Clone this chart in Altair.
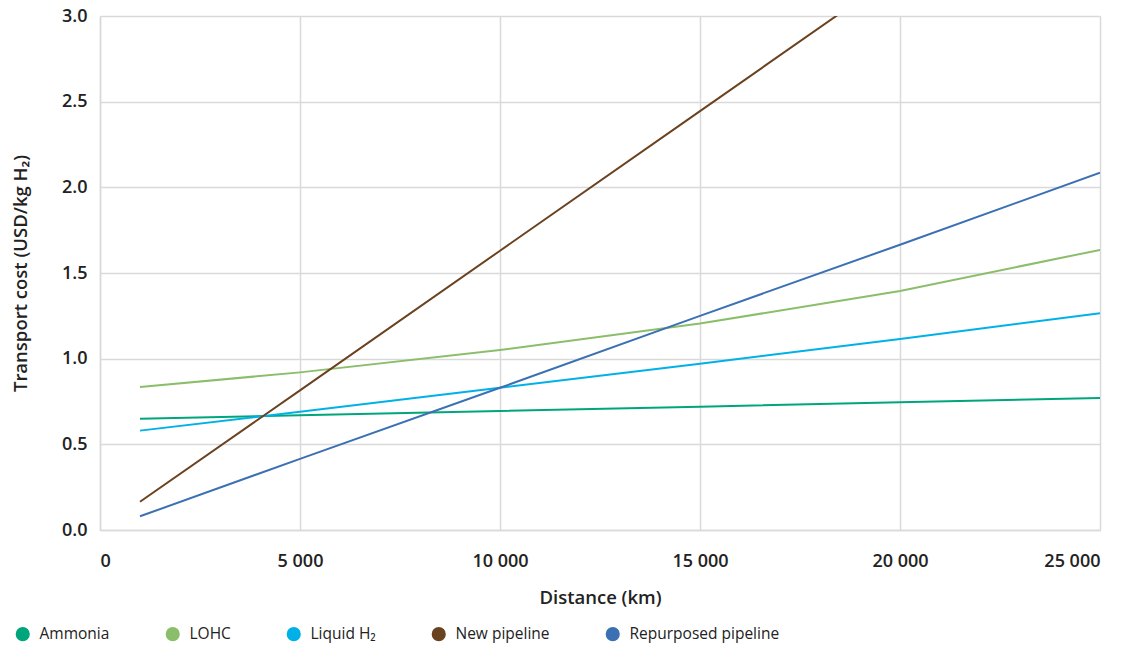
import altair as alt
import pandas as pd

distance = [1000, 5000, 10000, 15000, 20000, 25000]
ammonia = [0.65, 0.67, 0.695, 0.72, 0.745, 0.77]
lohc = [0.835, 0.92, 1.05, 1.205, 1.395, 1.635]
liquid_h2 = [0.58, 0.69, 0.83, 0.97, 1.115, 1.265]
new_pipeline = [0.165, 0.815, 1.63, 2.445, 3.26, 4.07]
repurposed_pipeline = [0.08, 0.415, 0.83, 1.25, 1.665, 2.085]

series_names = ["Ammonia", "LOHC", "Liquid H₂", "New pipeline", "Repurposed pipeline"]
series_colors = ["#00a57c", "#8bbe6a", "#00b1e8", "#6b4220", "#3b70b2"]
x_ticks = [0, 5000, 10000, 15000, 20000, 25000]
y_ticks = [0.0, 0.5, 1.0, 1.5, 2.0, 2.5, 3.0]

rows = []
for name, vals in zip(series_names, [ammonia, lohc, liquid_h2, new_pipeline, repurposed_pipeline]):
    for d, v in zip(distance, vals):
        rows.append({"series": name, "distance": d, "cost": v})
df = pd.DataFrame(rows)

FONT = "Open Sans"

color_scale = alt.Scale(domain=series_names, range=series_colors)

x_enc = alt.X(
    "distance:Q",
    scale=alt.Scale(domain=[0, 25000], nice=False),
    axis=alt.Axis(
        values=x_ticks,
        title="Distance (km)",
        labelExpr="replace(format(datum.value, ','), ',', ' ')",
        tickSize=0,
        labelPadding=22,
        titlePadding=18,
    ),
)
y_enc = alt.Y(
    "cost:Q",
    scale=alt.Scale(domain=[0, 3], nice=False),
    axis=alt.Axis(
        values=y_ticks,
        format=".1f",
        title="Transport cost (USD/kg H₂)",
        tickSize=0,
        labelPadding=13,
        titlePadding=31,
    ),
)

base = alt.Chart(df)

legend_layer = base.transform_filter("datum.cost < -100").mark_circle(opacity=1).encode(
    x=x_enc,
    y=y_enc,
    color=alt.Color(
        "series:N",
        sort=series_names,
        scale=color_scale,
        legend=alt.Legend(
            title=None,
            orient="none",
            direction="horizontal",
            legendX=-85,
            legendY=610,
            symbolType="circle",
            symbolSize=200,
            symbolStrokeWidth=0,
            symbolOpacity=1,
            labelFont=FONT,
            labelFontSize=15.5,
            labelColor="#222222",
            columnPadding=55,
            labelOffset=9,
        ),
    ),
)

lines = base.mark_line(strokeWidth=2, clip=True).encode(
    x=x_enc,
    y=y_enc,
    color=alt.Color("series:N", sort=series_names, scale=color_scale),
)

chart = alt.layer(legend_layer, lines).properties(
    width=1000,
    height=514,
    autosize=alt.AutoSizeParams(type="none"),
    padding={"left": 92, "top": 8, "right": 18, "bottom": 114},
).configure_view(
    stroke=None
).configure_axis(
    gridColor="#d9d9d9",
    gridWidth=1.5,
    domainColor="#d9d9d9",
    domainWidth=1.5,
    labelFont=FONT,
    labelFontSize=18,
    labelFontWeight=600,
    labelColor="#222222",
    titleFont=FONT,
    titleFontSize=18.5,
    titleFontWeight=600,
    titleColor="#222222",
)

chart.save("out.html", embed_options={"renderer": "svg", "actions": False})
